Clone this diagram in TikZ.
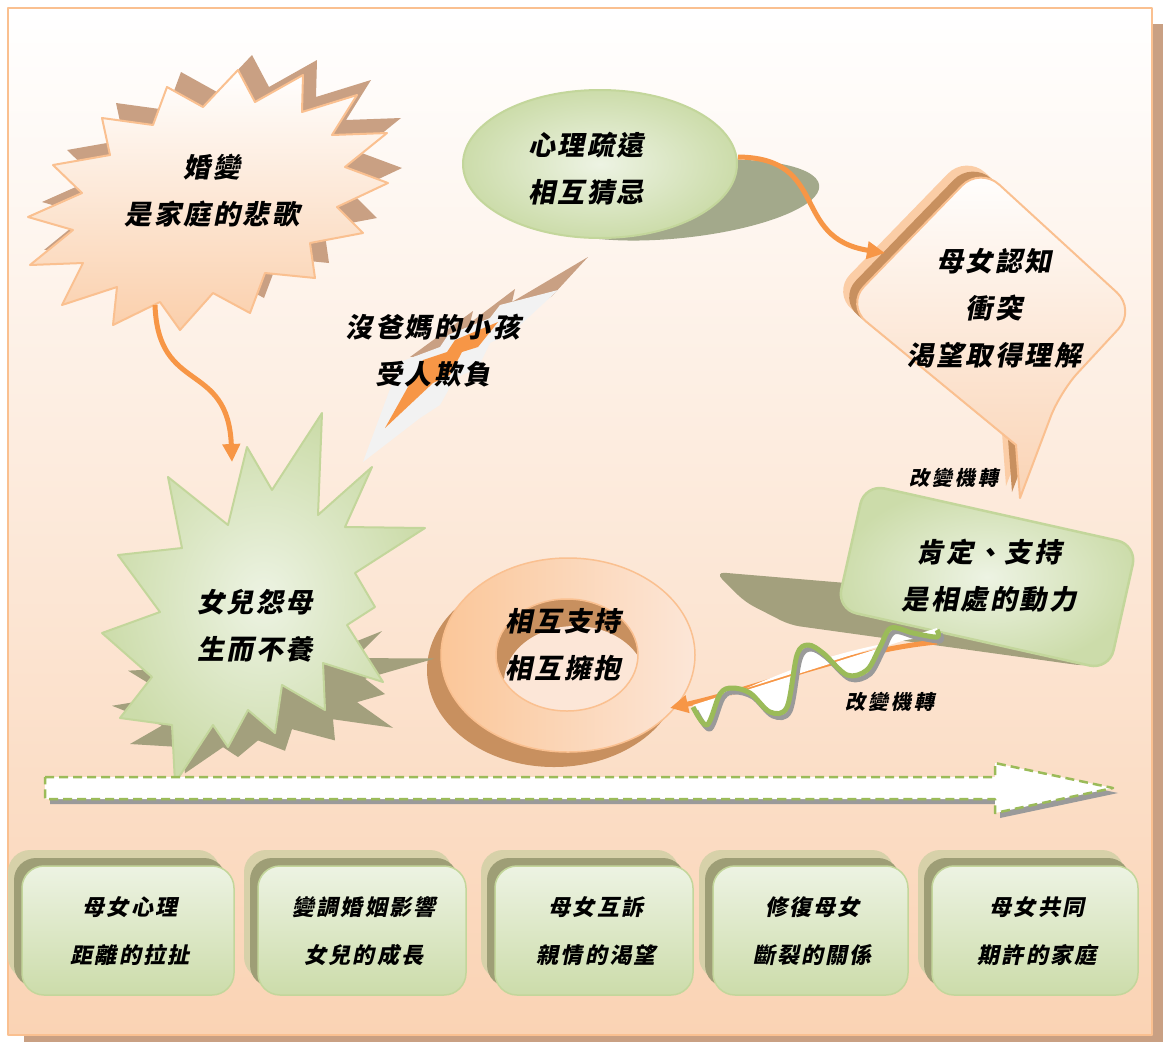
\documentclass[tikz,border=0pt]{standalone}
\usepackage{fontspec}
\newfontfamily\kai[FakeSlant=0.2]{Noto Sans CJK TC}
\usetikzlibrary{arrows.meta}
\definecolor{peachB}{HTML}{FAC090}
\definecolor{peachF}{HTML}{FAD3B4}
\definecolor{tanS}{HTML}{C9A083}
\definecolor{brownS}{HTML}{C8905F}
\definecolor{peachL}{HTML}{FBCDA6}
\definecolor{orangeA}{HTML}{F79646}
\definecolor{greenB}{HTML}{C3D69B}
\definecolor{greenL}{HTML}{EDF3E3}
\definecolor{greenD}{HTML}{CCDCAA}
\definecolor{oliveS}{HTML}{A3A07D}
\definecolor{ellS}{HTML}{A3A98B}
\definecolor{greenW}{HTML}{9BBB59}
\definecolor{boxL}{HTML}{D7D1A9}
\definecolor{boxD}{HTML}{9E9E76}
\definecolor{holeBG}{HTML}{FCE6D7}
\definecolor{greyS}{HTML}{9A9A9A}
\definecolor{boltG}{HTML}{F2F2F2}

\newcommand\starA[1]{\path[#1] (238,70) -- (255,102) -- (303,75) -- (302,112) -- (357,95) -- (332,135) -- (387,133) -- (345,167) -- (388,183) -- (337,207) -- (363,233) -- (310,243) -- (315,278) -- (265,273) -- (250,313) -- (213,293) -- (180,330) -- (160,302) -- (113,325) -- (117,287) -- (62,305) -- (83,263) -- (30,265) -- (73,230) -- (28,217) -- (82,193) -- (53,165) -- (110,155) -- (102,118) -- (153,125) -- (167,87) -- (203,107) -- cycle;}
\newcommand\starB[1]{\path[#1] (322,413) -- (318,515) -- (372,467) -- (345,527) -- (425,528) -- (355,573) -- (375,607) -- (347,625) -- (383,682) -- (323,663) -- (325,710) -- (282,685) -- (275,733) -- (248,710) -- (228,747) -- (213,725) -- (175,783) -- (172,725) -- (120,718) -- (152,677) -- (102,633) -- (160,612) -- (118,555) -- (182,548) -- (168,477) -- (228,525) -- (247,447) -- (272,490) -- cycle;}
\newcommand\diam[1]{\path[#1] (913,236) [rounded corners=26pt] -- (980,167) -- (1136,310) -- (1060,392) [sharp corners] -- (1020,498) -- (1016,445) [rounded corners=26pt] -- (846,305) -- cycle;}
\newcommand\bigarrow[1]{\path[#1] (45,777) -- (995,777) -- (995,763) -- (1113,788) -- (995,813) -- (995,799) -- (45,799) -- cycle;}
\newcommand\wavepts{(693,707) (707,725) (720,694) (732,688) (750,693) (770,712) (787,707) (797,655) (808,645) (823,653) (847,675) (867,670) (880,647) (891,628) (913,633) (937,637) (937,630)}

\begin{document}
\begin{tikzpicture}[x=1pt,y=-1pt,line join=round,
  txt/.style={font=\kai\bfseries\fontsize{27}{47}\selectfont\addfontfeatures{LetterSpace=9},align=center,inner sep=0pt},
  smalltxt/.style={font=\kai\bfseries\fontsize{20}{24}\selectfont\addfontfeatures{LetterSpace=15},inner sep=0pt},
  boxtxt/.style={font=\kai\bfseries\fontsize{22}{48}\selectfont\addfontfeatures{LetterSpace=10},align=center,inner sep=0pt},
  conn/.style={draw=orangeA,line width=5pt,-{Triangle[length=18pt,width=17pt]}},
  face/.style={fill=boxL,rounded corners=22pt},
  facemid/.style={fill=boxD,rounded corners=22pt},
  facefront/.style={draw=greenB,line width=1.5pt,rounded corners=22pt,top color=greenL,bottom color=greenD}]
\useasboundingbox (0,0) rectangle (1164,1042);

% frame
\fill[tanS] (24,24) rectangle (1163,1042);
\draw[peachB,line width=2.5pt,top color=white,bottom color=peachF] (8,8) rectangle (1152,1035);

% star 1
\starA{fill=tanS,shift={(14,-15)}}
\starA{draw=peachB,line width=2pt,top color=white,bottom color=peachF!95!orange}
\coordinate (s1b) at (155,305);
\node[txt] (t1) at (212,191) {婚變\\是家庭的悲歌};

% lightning
\path[fill=tanS] (410,357) -- (473,311) -- (470,323) -- (515,289) -- (512,302) -- (588,257) -- (552,296) -- (500,330) -- (440,355) -- cycle;
\path[fill=boltG] (363,462) -- (400,362) -- (440,347) -- (448,335) -- (490,318) -- (500,305) -- (558,290) -- (515,330) -- (490,343) -- (478,368) -- (455,378) -- (440,405) -- (420,418) -- cycle;
\path[fill=orangeA] (385,428) -- (423,360) -- (447,352) -- (455,340) -- (498,322) -- (478,347) -- (462,352) -- (450,375) -- (433,383) -- cycle;
\node[txt] (t2) at (433,351) {沒爸媽的小孩\\受人欺負};

% ellipse
\fill[ellS,rotate around={6:(680,200)}] (680,200) ellipse [x radius=140pt,y radius=38pt];
\shade[draw=greenB,line width=2pt,inner color=greenL,outer color=greenD] (600,164) ellipse [x radius=137pt,y radius=74pt];
\coordinate (eR) at (738,157);
\node[txt] (t3) at (586,169) {心理疏遠\\相互猜忌};

% diamond bubble
\diam{fill=peachL,shift={(-14,-12)}}
\diam{fill=brownS,shift={(-8,-6)}}
\diam{draw=peachB,line width=2pt,top color=white,bottom color=peachF}
\coordinate (dL) at (885,253);
\node[txt] (t4) at (994,308) {母女認知\\衝突\\渴望取得理解};
\node[smalltxt] (l1) at (954,478) {改變機轉};

% connectors top
\draw[conn] (s1b) .. controls (158,395) and (228,360) .. (232,462) coordinate (s2t);
\draw[conn] (eR) .. controls (830,158) and (790,238) .. (dL);

% green tilted box
\path[fill=oliveS,rounded corners=10pt] (715,572) -- (870,585) -- (1115,660) -- (1085,666) -- (790,625) -- (745,602) -- cycle;
\node[draw=greenB,line width=2.5pt,rounded corners=20pt,minimum width=279pt,minimum height=128pt,rotate=-12.6,inner color=greenL,outer color=greenD] (gbox) at (987,577) {};
\node[txt] (t5) at (989,576) {肯定、支持\\是相處的動力};

% donut
\fill[brownS] (554,670) ellipse [x radius=127pt,y radius=97pt];
\begin{scope}
  \clip (567,655) ellipse [x radius=71pt,y radius=56pt];
  \fill[brownS] (567,655) ellipse [x radius=71pt,y radius=56pt];
  \fill[holeBG] (575,682) ellipse [x radius=71pt,y radius=56pt];
\end{scope}
\shade[even odd rule,left color=peachF!85!orange,right color=holeBG] (568,655) ellipse [x radius=127pt,y radius=97pt] (567,655) ellipse [x radius=71pt,y radius=56pt];
\draw[peachB,line width=1.5pt] (568,655) ellipse [x radius=127pt,y radius=97pt] (567,655) ellipse [x radius=71pt,y radius=56pt];
\coordinate (dR) at (670,708);
\node[txt] (t6) at (563,645) {相互支持\\相互擁抱};

% wave arrow
\coordinate (wR) at (937,642);
\draw[conn] (wR) .. controls (850,650) and (760,688) .. (dR);
\path[fill=white] (693,705) -- (937,628) -- (937,636) .. controls (850,645) and (790,668) .. (720,700) -- (705,718) -- cycle;
\fill[white] plot[smooth,tension=0.55] coordinates {\wavepts} -- cycle;
\draw[greyS,line width=5pt,shift={(3,4)}] plot[smooth,tension=0.55] coordinates {\wavepts};
\draw[greenW,line width=5pt] plot[smooth,tension=0.55] coordinates {\wavepts};
\node[smalltxt] (l2) at (890,702) {改變機轉};

% green star
\starB{fill=oliveS,shift={(275,690)},yscale=0.45,shift={(-265,-598)}}
\starB{draw=greenB,line width=2pt,inner color=greenL,outer color=greenD}
\node[txt] (t7) at (255,626) {女兒怨母\\生而不養};

% big arrow
\bigarrow{fill=greyS,shift={(5,5)}}
\bigarrow{fill=white,draw=greenW,line width=2.5pt,dash pattern=on 9pt off 5pt}

% bottom boxes
\foreach \xa/\xb/\name/\la/\lb in {22/234/b1/母女心理/距離的拉扯, 258/466/b2/變調婚姻影響/女兒的成長, 495/693/b3/母女互訴/親情的渴望, 713/908/b4/修復母女/斷裂的關係, 932/1138/b5/母女共同/期許的家庭}{
  \fill[face] (\xa-14,850) rectangle (\xb-14,979);
  \fill[facemid] (\xa-8,858) rectangle (\xb-8,987);
  \draw[facefront] (\xa,866) rectangle (\xb,995);
  \node[boxtxt] (\name) at ({(\xa+\xb)/2+2},931) {\la\\\lb};
}
\end{tikzpicture}
\end{document}
